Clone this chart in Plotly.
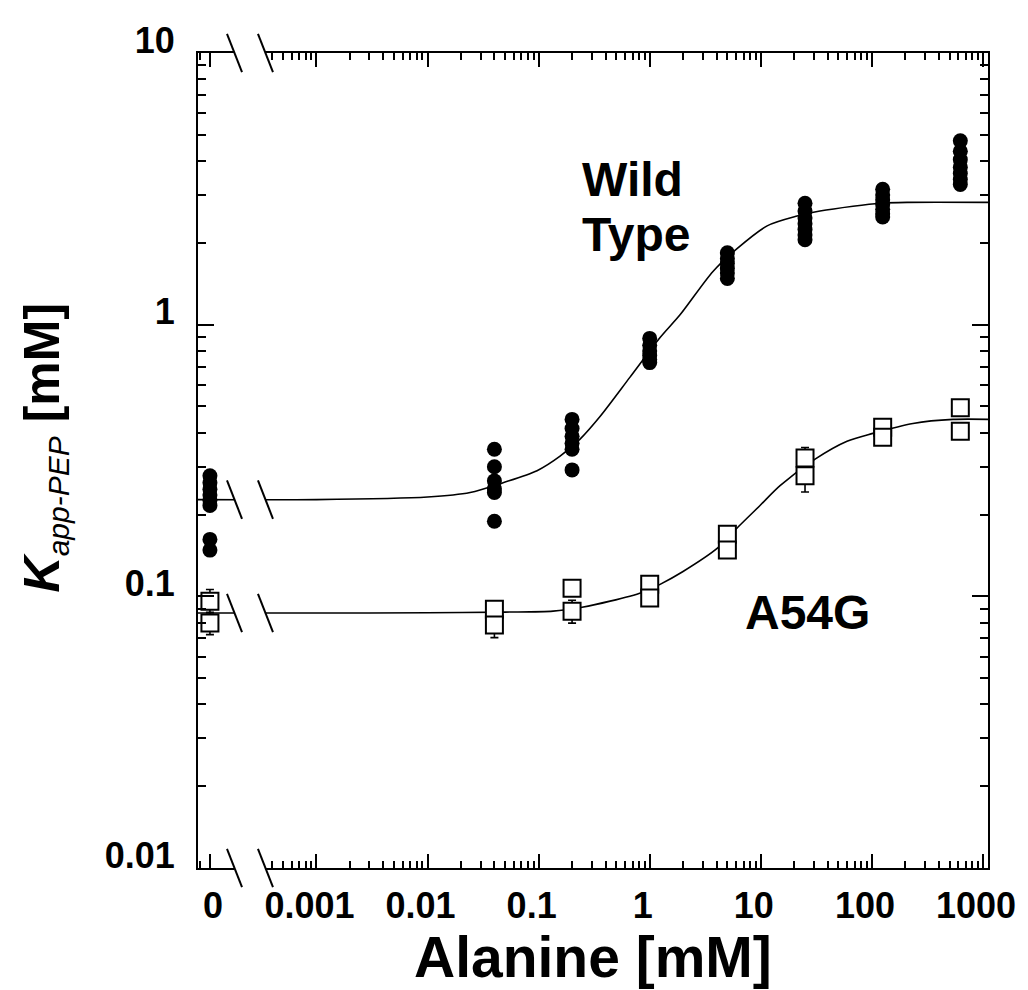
import plotly.graph_objects as go
import math

# ---------------- data ----------------
alanine_mM = [0, 0.04, 0.2, 1, 5, 25, 125, 625]

# Wild type replicate K_app-PEP values (mM), one list per alanine concentration
wt_kapp = [
    [0.278, 0.262, 0.248, 0.236, 0.226, 0.216, 0.162, 0.148],
    [0.348, 0.300, 0.266, 0.249, 0.241, 0.189],
    [0.448, 0.415, 0.388, 0.366, 0.348, 0.292],
    [0.890, 0.840, 0.800, 0.770, 0.745, 0.725],
    [1.84, 1.75, 1.68, 1.61, 1.55, 1.48],
    [2.80, 2.62, 2.47, 2.35, 2.24, 2.14, 2.055],
    [3.15, 3.00, 2.88, 2.77, 2.66, 2.56, 2.49],
    [4.75, 4.35, 4.05, 3.80, 3.60, 3.42, 3.28],
]

# A54G replicate values and their error bars
a54g_kapp = [
    [0.0959, 0.0798],
    [0.0897, 0.0785],
    [0.107, 0.0882],
    [0.1107, 0.0985],
    [0.1694, 0.148],
    [0.323, 0.278],
    [0.419, 0.385],
    [0.495, 0.405],
]
a54g_err = [
    [0.010, 0.0075],
    [0.004, 0.008],
    [0.004, 0.0085],
    [0.004, 0.004],
    [0.006, 0.006],
    [0.030, 0.036],
    [0.010, 0.012],
    [0.010, 0.010],
]

# fitted curves
wt_fit_x = [7e-5, 0.001, 0.01, 0.0242, 0.0479, 0.0968, 0.156, 0.236, 0.357, 0.665,
            1.24, 1.875, 3.71, 6.11, 11.4, 21.2, 34.1, 67.6, 118, 207, 1200]
wt_fit_y = [0.227, 0.227, 0.232, 0.241, 0.262, 0.290, 0.328, 0.379, 0.459, 0.641,
            0.897, 1.087, 1.57, 1.905, 2.31, 2.51, 2.62, 2.73, 2.80, 2.82, 2.82]
a54g_fit_x = [7e-5, 0.001, 0.01, 0.05, 0.135, 0.246, 0.44, 0.853, 1.24, 1.995,
              4.12, 6.24, 9.84, 14.9, 30.8, 59.7, 102, 234, 537, 1200]
a54g_fit_y = [0.0868, 0.0868, 0.0870, 0.0875, 0.0882, 0.0912, 0.096, 0.1034, 0.1107, 0.1234,
              0.151, 0.180, 0.216, 0.2554, 0.320, 0.3724, 0.398, 0.433, 0.448, 0.448]

x_tick_vals_real = [0, 0.001, 0.01, 0.1, 1, 10, 100, 1000]
x_tick_text = ["\u00a0\u00a00", "0.001", "0.01", "0.1", "1", "10", "100", "1000"]
y_tick_vals = [0.01, 0.1, 1, 10]
y_tick_text = ["0.01", "0.1", "1", "10"]

# position used to draw "0" on the broken log axis
ZERO_POS = 1.1e-4
X_RANGE = [-4.066, 3.045]
Y_RANGE = [-2, 1]


def xpos(c):
    return c if c > 0 else ZERO_POS


FONT = "Liberation Sans, Arial, Helvetica, sans-serif"

fig = go.Figure()

# curves
fig.add_trace(go.Scatter(x=wt_fit_x, y=wt_fit_y, mode="lines",
                         line=dict(color="black", width=1.6, shape="spline", smoothing=0.8),
                         showlegend=False, hoverinfo="skip"))
fig.add_trace(go.Scatter(x=a54g_fit_x, y=a54g_fit_y, mode="lines",
                         line=dict(color="black", width=1.6, shape="spline", smoothing=0.8),
                         showlegend=False, hoverinfo="skip"))

# wild type points
wx, wy = [], []
for c, vals in zip(alanine_mM, wt_kapp):
    for v in vals:
        wx.append(xpos(c))
        wy.append(v)
fig.add_trace(go.Scatter(x=wx, y=wy, mode="markers", name="Wild Type",
                         marker=dict(symbol="circle", size=15, color="black",
                                     line=dict(width=0)),
                         showlegend=False))

# A54G points
ax_, ay_, ae_ = [], [], []
for c, vals, errs in zip(alanine_mM, a54g_kapp, a54g_err):
    for v, e in zip(vals, errs):
        ax_.append(xpos(c))
        ay_.append(v)
        ae_.append(e)
fig.add_trace(go.Scatter(x=ax_, y=ay_, mode="markers", name="A54G",
                         error_y=dict(type="data", array=ae_, visible=True,
                                      color="black", thickness=1.6, width=4),
                         marker=dict(symbol="square", size=17, color="white",
                                     line=dict(width=2, color="black")),
                         showlegend=False))

minor_x = [m * 10 ** e for e in range(-5, 3) for m in range(2, 10)]
minor_y = [m * 10 ** e for e in range(-2, 1) for m in range(2, 10)]

TICKFONT = dict(family=FONT, size=36, color="black", weight="bold")

fig.update_xaxes(type="log", range=X_RANGE,
                 tickmode="array", tickvals=[xpos(v) for v in x_tick_vals_real],
                 ticktext=x_tick_text,
                 ticks="inside", ticklen=14, tickwidth=2, tickcolor="black",
                 showline=True, linewidth=2, linecolor="black", mirror="ticks",
                 showgrid=False, zeroline=False,
                 tickfont=TICKFONT,
                 ticklabelshift=-7, ticklabelstandoff=5,
                 minor=dict(tickmode="array", tickvals=minor_x, ticks="inside",
                            ticklen=7, tickwidth=2, tickcolor="black", showgrid=False))
fig.update_yaxes(type="log", range=Y_RANGE,
                 tickmode="array", tickvals=y_tick_vals, ticktext=y_tick_text,
                 ticks="inside", ticklen=16, tickwidth=2, tickcolor="black",
                 showline=True, linewidth=2, linecolor="black", mirror="ticks",
                 showgrid=False, zeroline=False,
                 tickfont=TICKFONT, ticklabeloverflow="allow",
                 ticklabelshift=-13, ticklabelstandoff=14,
                 minor=dict(tickmode="array", tickvals=minor_y, ticks="inside",
                            ticklen=8, tickwidth=2, tickcolor="black", showgrid=False))

# axis break: white gap + slashes
bx0, bx1 = 0.0456, 0.0848
sx = [(0.0367, 0.0557), (0.0759, 0.0949)]
shapes = [dict(type="rect", xref="paper", yref="paper", x0=bx0, x1=bx1, y0=-0.02, y1=1.02,
               fillcolor="white", line=dict(width=0), layer="above")]


def ypaper(v):
    return (math.log10(v) - Y_RANGE[0]) / (Y_RANGE[1] - Y_RANGE[0])


slash_centers = [0.0, 1.0, ypaper(wt_fit_y[0]), ypaper(a54g_fit_y[0])]
for yc in slash_centers:
    for x0, x1 in sx:
        shapes.append(dict(type="line", xref="paper", yref="paper",
                           x0=x0, x1=x1, y0=yc + 0.0235, y1=yc - 0.0235,
                           line=dict(color="black", width=2), layer="above"))

ANN = dict(xref="paper", yref="paper", showarrow=False, xanchor="center", yanchor="middle")
annotations = [
    dict(text="Wild", x=0.5506, y=0.845,
         font=dict(family=FONT, size=48, color="black", weight="bold"), **ANN),
    dict(text="Type", x=0.5550, y=0.777,
         font=dict(family=FONT, size=48, color="black", weight="bold"), **ANN),
    dict(text="A54G", x=0.772, y=0.313,
         font=dict(family=FONT, size=48, color="black", weight="bold"), **ANN),
    dict(text="Alanine [mM]", x=0.5, y=-0.109,
         font=dict(family=FONT, size=57, color="black", weight="bold"), **ANN),
    dict(text="<b><i>K</i></b><sub><i><span style='font-size:30px'>app-PEP</span></i></sub><b> [mM]</b>",
         x=-0.1937, y=0.516, textangle=-90,
         font=dict(family=FONT, size=50, color="black"), **ANN),
]

# the page adds an 8 px body margin, so the figure is 8 px smaller on each side
fig.update_layout(width=1020, height=982,
                  margin=dict(l=190, r=40, t=34, b=122),
                  paper_bgcolor="white", plot_bgcolor="white",
                  shapes=shapes, annotations=annotations, showlegend=False)

fig.write_html("out.html")
